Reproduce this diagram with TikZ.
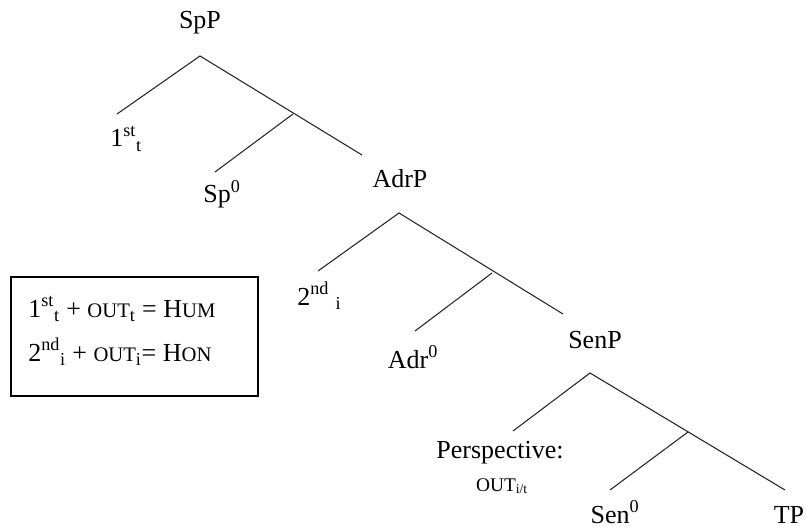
\documentclass[tikz,border=0pt]{standalone}
\usepackage{fontspec}
\setmainfont{Liberation Serif}
\newcommand{\fsc}[1]{{\fontsize{15.5pt}{18pt}\selectfont #1}}
\newcommand{\fscs}[1]{{\fontsize{14.5pt}{17pt}\selectfont #1}}
\begin{document}
\begin{tikzpicture}[x=0.75pt,y=-0.75pt,
  branch/.style={draw=black!85,line width=0.8pt},
  lab/.style={inner sep=0pt,anchor=base,font=\fontsize{19.5pt}{23pt}\selectfont},
  labl/.style={lab,anchor=base west},
  legend/.style={draw=black,line width=1pt}]
\useasboundingbox (0,0) rectangle (806,527);
% tree 1
\coordinate (a1) at (200,56);
\coordinate (l1) at (117,114);
\coordinate (m1) at (293,114);
\coordinate (r1) at (362,155);
\coordinate (s1) at (215,172);
% tree 2
\coordinate (a2) at (399,213);
\coordinate (l2) at (318,271);
\coordinate (m2) at (492,273);
\coordinate (r2) at (563,314);
\coordinate (s2) at (415,331);
% tree 3
\coordinate (a3) at (590,373);
\coordinate (l3) at (513,431);
\coordinate (m3) at (688,432);
\coordinate (r3) at (785,490);
\coordinate (s3) at (610,490);

\draw[branch] (l1) -- (a1) -- (r1);
\draw[branch] (m1) -- (s1);
\draw[branch] (l2) -- (a2) -- (r2);
\draw[branch] (m2) -- (s2);
\draw[branch] (l3) -- (a3) -- (r3);
\draw[branch] (m3) -- (s3);

\node[lab] (spp) at (200,29) {SpP};
\node[labl] (first) at (110,147) {1\textsuperscript{st}\textsubscript{t}};
\node[lab] (sp0) at (222,203) {Sp\textsuperscript{0}};
\node[lab] (adrp) at (400,188) {AdrP};
\node[labl] (second) at (297,305) {2\textsuperscript{nd} \textsubscript{i}};
\node[lab] (adr0) at (413,368) {Adr\textsuperscript{0}};
\node[lab] (senp) at (595,348) {SenP};
\node[lab] (persp) at (500,458) {Perspective:};
\node[lab] (out) at (502,491) {\fscs{OUT\textsubscript{i/t}}};
\node[lab] (sen0) at (615,523) {Sen\textsuperscript{0}};
\node[lab] (tp) at (789,523) {TP};

\draw[legend] (11,277) rectangle (258,396);
\node[labl] (hum) at (28,317) {1\textsuperscript{st}\textsubscript{t} + \fsc{OUT}\textsubscript{t} = H\fsc{UM}};
\node[labl] (hon) at (28,361) {2\textsuperscript{nd}\textsubscript{i} + \fsc{OUT}\textsubscript{i}= H\fsc{ON}};
\end{tikzpicture}
\end{document}
